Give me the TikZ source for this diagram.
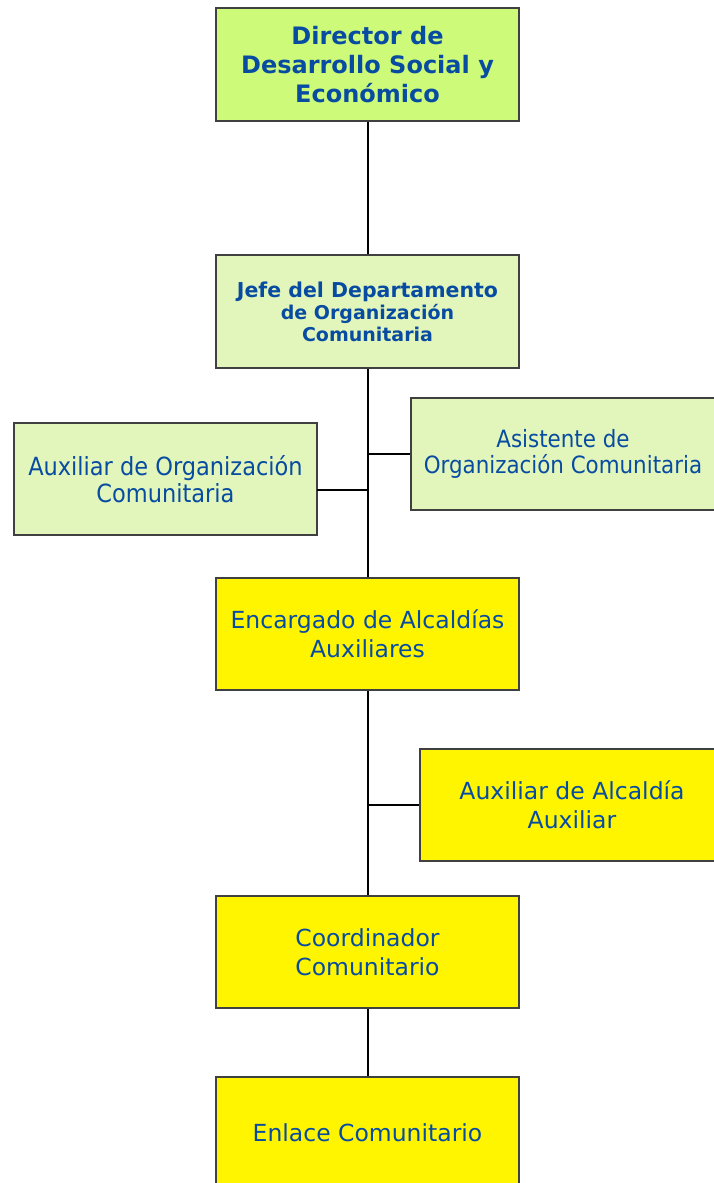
\documentclass[tikz,border=0pt]{standalone}
\usepackage{fontspec}
\setmainfont{DejaVu Sans}
\newfontfamily\narrowfont{DejaVu Sans Condensed}
\definecolor{txtblue}{RGB}{8,76,162}
\definecolor{limefill}{RGB}{206,250,122}
\definecolor{palefill}{RGB}{226,245,187}
\definecolor{yelfill}{RGB}{255,245,0}
\definecolor{boxline}{RGB}{64,64,64}
\tikzset{
  box/.style={draw=boxline, line width=2pt, inner sep=0pt, align=center, text=txtblue},
  conn/.style={draw=black, line width=2pt},
  regtext/.style={font=\fontsize{23.5}{28.5}\selectfont},
  nartext/.style={font=\narrowfont\fontsize{25}{27}\selectfont}
}
\begin{document}
\begin{tikzpicture}[x=1pt,y=-1pt]
\useasboundingbox (0,0) rectangle (713,1183);
% boxes
\node[box, fill=limefill, minimum width=303pt, minimum height=113pt,
      font=\bfseries\fontsize{24}{29}\selectfont] (dir) at (367.5,64.5)
  {Director de\\Desarrollo Social y\\Económico};
\node[box, fill=palefill, minimum width=303pt, minimum height=113pt,
      font=\bfseries\fontsize{19}{22}\selectfont] (jefe) at (367.5,311.5)
  {{\fontsize{20.5}{23}\selectfont Jefe del Departamento}\\de Organización\\Comunitaria};
\node[box, fill=palefill, minimum width=304pt, minimum height=112pt,
      font=\narrowfont\fontsize{23.8}{26}\selectfont] (asis) at (563,454)
  {Asistente de\\Organización Comunitaria};
\node[box, fill=palefill, minimum width=303pt, minimum height=112pt, nartext] (auxorg) at (165.5,479)
  {Auxiliar de Organización\\Comunitaria};
\node[box, fill=yelfill, minimum width=303pt, minimum height=112pt, regtext] (enc) at (367.5,634)
  {Encargado de Alcaldías\\Auxiliares};
\node[box, fill=yelfill, minimum width=304pt, minimum height=112pt, regtext] (auxalc) at (572,805)
  {Auxiliar de Alcaldía\\Auxiliar};
\node[box, fill=yelfill, minimum width=303pt, minimum height=112pt, regtext] (coord) at (367.5,952)
  {Coordinador\\Comunitario};
\node[box, fill=yelfill, minimum width=303pt, minimum height=112pt, regtext] (enl) at (367.5,1133)
  {Enlace Comunitario};
% junction coordinates
\coordinate (auxorgj) at (317,490);
% connectors
\draw[conn] (dir.south) -- (jefe.north);
\draw[conn] (jefe.south) -- (enc.north);
\draw[conn] (jefe.south |- asis.west) -- (asis.west);
\draw[conn] (auxorgj) -- (auxorgj -| jefe.south);
\draw[conn] (enc.south) -- (coord.north);
\draw[conn] (enc.south |- auxalc.west) -- (auxalc.west);
\draw[conn] (coord.south) -- (enl.north);
\end{tikzpicture}
\end{document}
